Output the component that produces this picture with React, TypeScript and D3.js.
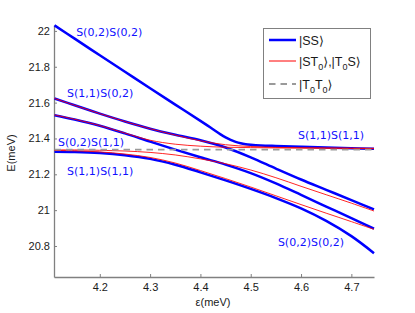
import React, { useEffect, useRef } from 'react';
import * as d3 from 'd3';

// detuning grid (meV) shared by most curves
const eps = [4.11, 4.15, 4.2, 4.25, 4.3, 4.35, 4.4, 4.45, 4.5, 4.55, 4.6, 4.65, 4.7, 4.745];

// |SS> branches
const epsA = [4.11, 4.15, 4.2, 4.25, 4.3, 4.35, 4.4, 4.42, 4.44, 4.45, 4.46, 4.47, 4.48, 4.49, 4.5, 4.52, 4.55, 4.6, 4.65, 4.7, 4.745];
const ssA = [22.031, 21.957, 21.864, 21.772, 21.68, 21.589, 21.498, 21.461, 21.423, 21.406, 21.392, 21.381, 21.373, 21.368, 21.365, 21.361, 21.358, 21.354, 21.35, 21.346, 21.342];
const ssB = [21.623, 21.585, 21.5385, 21.4945, 21.4545, 21.4205, 21.3895, 21.3495, 21.2945, 21.232, 21.171, 21.1135, 21.056, 21.004];
const ssC = [21.53, 21.506, 21.471, 21.4285, 21.3825, 21.3375, 21.295, 21.254, 21.2065, 21.149, 21.085, 21.02, 20.955, 20.897];
const ssD = [21.326, 21.3244, 21.3184, 21.306, 21.286, 21.2535, 21.211, 21.166, 21.1185, 21.0675, 21.01, 20.94, 20.855, 20.76];

// |ST0>, |T0S> branches
const st1 = [21.623, 21.585, 21.5385, 21.4945, 21.4545, 21.419, 21.387, 21.365, 21.355, 21.35, 21.348, 21.347, 21.346, 21.345];
const st2 = [21.531, 21.507, 21.472, 21.43, 21.39, 21.368, 21.357, 21.351, 21.349, 21.347, 21.346, 21.345, 21.344, 21.343];
const st3 = [21.336, 21.336, 21.334, 21.33, 21.322, 21.308, 21.286, 21.259, 21.224, 21.181, 21.133, 21.086, 21.039, 20.995];
const st4 = [21.333, 21.331, 21.325, 21.313, 21.294, 21.263, 21.221, 21.176, 21.129, 21.08, 21.031, 20.983, 20.936, 20.893];

// |T0T0>
const ttEps = [4.11, 4.745];
const tt = [21.338, 21.338];

const xTicks = [4.2, 4.3, 4.4, 4.5, 4.6, 4.7];
const yTicks = [20.8, 21, 21.2, 21.4, 21.6, 21.8, 22];

const notes = [
  { text: 'S(0,2)S(0,2)', e: 4.153, E: 21.972 },
  { text: 'S(1,1)S(0,2)', e: 4.135, E: 21.632 },
  { text: 'S(0,2)S(1,1)', e: 4.117, E: 21.358 },
  { text: 'S(1,1)S(1,1)', e: 4.135, E: 21.196 },
  { text: 'S(1,1)S(1,1)', e: 4.594, E: 21.397 },
  { text: 'S(0,2)S(0,2)', e: 4.554, E: 20.8 },
];

const zip = (xs: number[], ys: number[]) => xs.map((v, i) => [v, ys[i]] as [number, number]);

function App() {
  const svgRef = useRef<SVGSVGElement>(null);

  useEffect(() => {
    const svg = d3.select(svgRef.current);
    svg.selectAll('*').remove();

    const x = d3.scaleLinear().domain([4.109, 4.745]).range([54, 374]);
    const y = d3.scaleLinear().domain([20.627, 22.033]).range([277, 25]);

    const line = d3.line<[number, number]>()
      .x(d => x(d[0]))
      .y(d => y(d[1]))
      .curve(d3.curveCatmullRom.alpha(0.5));

    const font = 'Liberation Sans, Arial, sans-serif';

    // axes
    const yAxis = svg.append('g')
      .attr('transform', 'translate(54,0)')
      .call(d3.axisLeft(y).tickValues(yTicks).tickFormat(d3.format('~g')).tickSizeInner(-3).tickSizeOuter(0).tickPadding(4));
    const xAxis = svg.append('g')
      .attr('transform', 'translate(0,277)')
      .call(d3.axisBottom(x).tickValues(xTicks).tickFormat(d3.format('~g')).tickSizeInner(-3).tickSizeOuter(0).tickPadding(6));
    [yAxis, xAxis].forEach(g => {
      g.attr('color', '#808080');
      g.select('.domain').attr('stroke-width', 1.3);
      g.selectAll('text').attr('fill', '#1a1a1a').style('font-size', '11px').style('font-family', font);
    });

    svg.append('text')
      .attr('transform', 'translate(15,153) rotate(-90)')
      .attr('text-anchor', 'middle')
      .style('font-size', '11px').style('font-family', font).attr('fill', '#1a1a1a')
      .text('E(meV)');
    svg.append('text')
      .attr('x', 213).attr('y', 306)
      .attr('text-anchor', 'middle')
      .style('font-size', '11px').style('font-family', font).attr('fill', '#1a1a1a')
      .text('ε(meV)');

    // blue singlet-singlet curves
    const blue = [zip(epsA, ssA), zip(eps, ssB), zip(eps, ssC), zip(eps, ssD)];
    svg.append('g').selectAll('path').data(blue).enter().append('path')
      .attr('d', d => line(d))
      .attr('fill', 'none').attr('stroke', '#0000ff').attr('stroke-width', 2.5);

    // red singlet-triplet curves
    const red = [zip(eps, st1), zip(eps, st2), zip(eps, st3), zip(eps, st4)];
    svg.append('g').selectAll('path').data(red).enter().append('path')
      .attr('d', d => line(d))
      .attr('fill', 'none').attr('stroke', '#ff0000').attr('stroke-width', 1).attr('stroke-opacity', 0.85);

    // dashed T0T0
    svg.append('path')
      .attr('d', line(zip(ttEps, tt)))
      .attr('fill', 'none').attr('stroke', '#9a9a9a').attr('stroke-width', 1.8)
      .attr('stroke-dasharray', '6.5,5');

    // state annotations
    svg.append('g').selectAll('text').data(notes).enter().append('text')
      .attr('x', d => x(d.e)).attr('y', d => y(d.E))
      .attr('fill', '#1010ff')
      .style('font-size', '11px').style('font-family', 'DejaVu Sans, sans-serif')
      .text(d => d.text);

    // legend
    const lg = svg.append('g');
    lg.append('rect').attr('x', 263.5).attr('y', 28.5).attr('width', 107).attr('height', 70)
      .attr('fill', '#fff').attr('stroke', '#808080').attr('stroke-width', 1);
    const items = [
      { y: 40, stroke: '#0000ff', w: 2.5, dash: null, parts: [['|SS', 0], ['⟩', 2]] },
      { y: 61, stroke: '#ff0000', w: 1, dash: null, parts: [['|ST', 0], ['0', 1], ['⟩', 2], [',|T', 0], ['0', 1], ['S', 0], ['⟩', 2]] },
      { y: 84, stroke: '#9a9a9a', w: 1.8, dash: '6.5,5', parts: [['|T', 0], ['0', 1], ['T', 0], ['0', 1], ['⟩', 2]] },
    ];
    items.forEach(it => {
      lg.append('line').attr('x1', 269).attr('x2', 296).attr('y1', it.y).attr('y2', it.y)
        .attr('stroke', it.stroke).attr('stroke-width', it.w)
        .attr('stroke-dasharray', it.dash);
      const t = lg.append('text').attr('x', 299).attr('y', it.y + 4.5)
        .attr('fill', '#1a1a1a').style('font-size', '12.5px').style('font-family', font);
      // kind: 0 plain, 1 subscript, 2 angle bracket
      (it.parts as [string, number][]).forEach(([s, kind], i, arr) => {
        const prevSub = i > 0 && arr[i - 1][1] === 1;
        const sub = kind === 1;
        t.append('tspan')
          .attr('dy', sub ? 4 : prevSub ? -4 : 0)
          .style('font-size', sub ? '9px' : '12.5px')
          .style('font-family', kind === 2 ? 'DejaVu Sans, sans-serif' : font)
          .text(s);
      });
    });
  }, []);

  return (
    <svg ref={svgRef} width={415} height={313}
      style={{ position: 'absolute', left: 0, top: 0, background: '#fff' }} />
  );
}

export default App;
